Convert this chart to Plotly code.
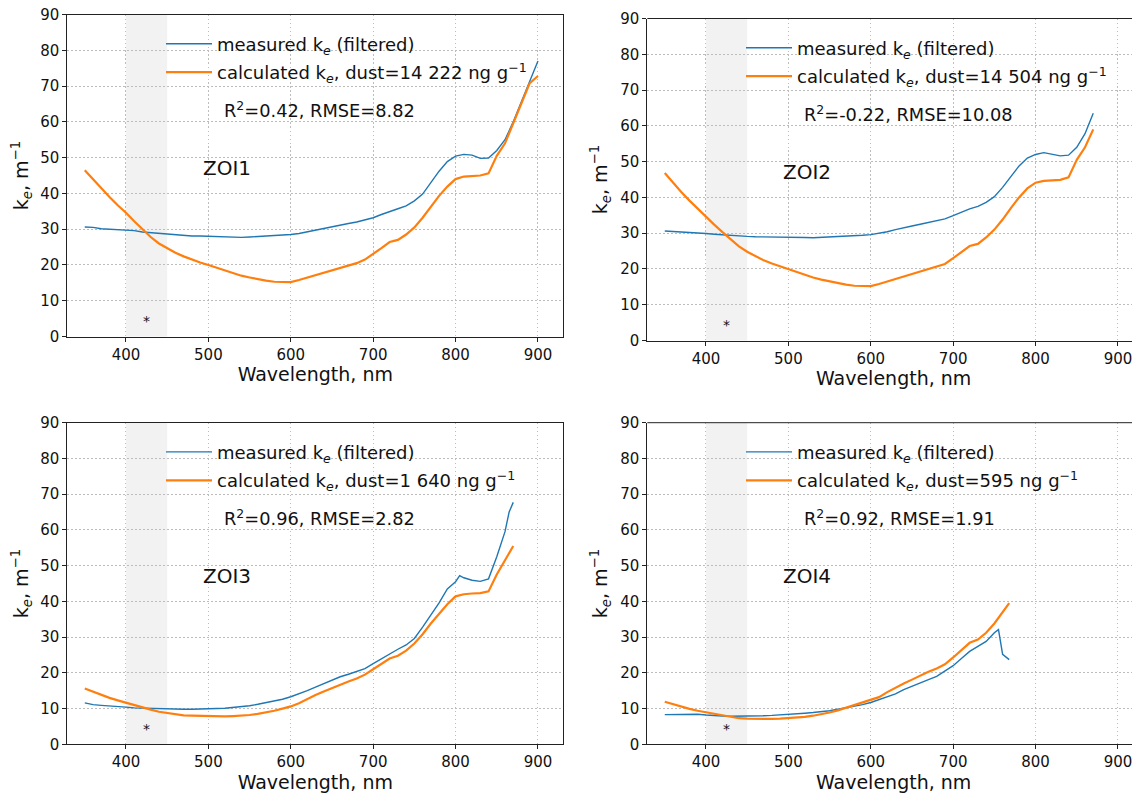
import plotly.graph_objects as go

# page body has an 8px margin: figure occupies the visible window minus that offset
OFF = 8
W, H = 1140 - OFF, 796 - OFF

# ---------------- data ----------------
wl_1 = list(range(350, 901, 10))
meas_1 = [30.6, 30.5, 30.1, 30.0, 29.8, 29.8, 29.6, 29.2, 29.0, 28.8,
          28.5, 28.3, 28.2, 28.1, 28.1, 28.0, 27.9, 27.8, 27.7, 27.7,
          27.8, 27.9, 28.0, 28.1, 28.3, 28.5, 28.8, 29.3, 29.8, 30.2,
          30.7, 31.2, 31.6, 32.0, 32.5, 33.2, 34.1, 35.0, 35.7, 36.5,
          37.9, 39.8, 43.0, 46.2, 48.9, 50.4, 50.9, 50.7, 49.8, 49.9,
          52.0, 55.0, 60.0, 65.5, 71.5, 77.0]
calc_1 = [46.5, 43.9, 41.4, 39.0, 36.7, 34.6, 32.2, 30.0, 27.8, 26.0,
          24.6, 23.4, 22.4, 21.5, 20.7, 20.0, 19.2, 18.4, 17.6, 17.0,
          16.5, 16.0, 15.6, 15.3, 15.2, 15.2, 15.8, 16.5, 17.2, 17.8,
          18.5, 19.2, 19.9, 20.5, 21.5, 23.0, 24.7, 26.4, 27.0, 28.5,
          30.5, 33.2, 36.2, 39.3, 41.9, 44.0, 44.7, 44.9, 45.0, 45.6,
          50.5, 54.0, 59.5, 65.5, 70.8, 72.8]

wl_2 = list(range(350, 871, 10))
meas_2 = [30.6, 30.5, 30.3, 30.2, 30.0, 29.9, 29.7, 29.5, 29.3, 29.2,
          29.1, 29.0, 29.0, 29.0, 28.9, 28.9, 28.9, 28.8, 28.7, 28.8,
          28.8, 28.9, 29.1, 29.3, 29.4, 29.6, 29.9, 30.4, 31.0, 31.6,
          32.0, 32.5, 33.0, 33.4, 34.0, 34.9, 35.9, 36.8, 37.5, 38.6,
          40.2, 42.8, 45.8, 48.8, 51.0, 52.0, 52.5, 52.1, 51.6, 51.8,
          54.0, 57.8, 63.5]
calc_2 = [46.8, 44.0, 41.5, 39.1, 36.8, 34.6, 32.4, 30.3, 28.2, 26.3,
          24.8, 23.5, 22.4, 21.5, 20.7, 20.0, 19.2, 18.4, 17.6, 17.0,
          16.5, 16.0, 15.6, 15.3, 15.2, 15.2, 15.8, 16.5, 17.2, 17.8,
          18.5, 19.2, 19.9, 20.5, 21.4, 23.0, 24.7, 26.4, 27.0, 28.8,
          31.0, 33.8, 37.0, 40.0, 42.5, 44.1, 44.6, 44.8, 44.9, 45.6,
          50.5, 54.0, 59.0]

wl_3 = list(range(350, 801, 10)) + [805, 810, 820, 830, 840, 850, 860, 865, 870]
meas_3 = [11.6, 11.1, 10.9, 10.8, 10.6, 10.4, 10.2, 10.1, 10.0, 9.9,
          9.9, 9.8, 9.8, 9.8, 9.8, 9.9, 10.0, 10.1, 10.3, 10.5,
          10.8, 11.2, 11.6, 12.1, 12.6, 13.3, 14.1, 15.0, 16.0, 17.0,
          18.0, 18.9, 19.6, 20.3, 21.2, 22.6, 24.0, 25.4, 26.6, 27.8,
          29.6, 32.8, 36.2, 39.6, 43.5, 45.5, 47.2, 46.6, 45.9, 45.6,
          46.3, 52.5, 59.5, 65.0, 67.7]
calc_3 = [15.6, 14.7, 13.8, 13.0, 12.3, 11.6, 11.0, 10.3, 9.7, 9.1,
          8.7, 8.4, 8.1, 8.0, 7.9, 7.8, 7.8, 7.8, 7.9, 8.0,
          8.2, 8.5, 8.9, 9.4, 10.0, 10.6, 11.5, 12.7, 13.8, 14.8,
          15.8, 16.8, 17.6, 18.4, 19.5, 21.0, 22.6, 24.0, 24.8, 26.2,
          28.2, 30.8, 33.8, 36.5, 39.2, 41.4, 41.8, 42.0, 42.2, 42.3,
          42.8, 47.5, 51.5, 53.5, 55.5]

wl_4 = list(range(350, 751, 10)) + [755, 760, 768]
meas_4 = [8.3, 8.3, 8.4, 8.5, 8.4, 8.2, 8.0, 7.9, 7.85, 7.85,
          7.9, 7.95, 8.0, 8.1, 8.2, 8.3, 8.5, 8.7, 8.9, 9.1,
          9.4, 9.8, 10.2, 10.6, 11.1, 11.7, 12.5, 13.2, 14.1, 15.3,
          16.3, 17.2, 18.1, 19.0, 20.4, 22.0, 24.0, 26.0, 27.4, 28.8,
          31.2, 32.1, 25.2, 23.7]
calc_4 = [11.9, 11.2, 10.5, 9.9, 9.4, 9.0, 8.5, 8.0, 7.6, 7.3,
          7.2, 7.1, 7.1, 7.1, 7.2, 7.3, 7.5, 7.7, 8.0, 8.4,
          8.9, 9.5, 10.2, 10.9, 11.6, 12.3, 13.2, 14.6, 15.9, 17.0,
          18.1, 19.3, 20.3, 21.2, 22.4, 24.3, 26.3, 28.4, 29.3, 31.2,
          33.8, 35.3, 36.8, 39.5]

panel_names = ["ZOI1", "ZOI2", "ZOI3", "ZOI4"]
dust_labels = ["14 222", "14 504", "1 640", "595"]
fit_labels = ["R<sup>2</sup>=0.42, RMSE=8.82", "R<sup>2</sup>=-0.22, RMSE=10.08",
              "R<sup>2</sup>=0.96, RMSE=2.82", "R<sup>2</sup>=0.92, RMSE=1.91"]
x_ticks = [400, 500, 600, 700, 800, 900]
y_ticks = [0, 10, 20, 30, 40, 50, 60, 70, 80, 90]

wls = [wl_1, wl_2, wl_3, wl_4]
meas = [meas_1, meas_2, meas_3, meas_4]
calc = [calc_1, calc_2, calc_3, calc_4]

# ---------------- layout geometry (window pixels) ----------------
BLUE = "#1f77b4"
ORANGE = "#ff7f0e"
TXT = "#111111"
FONT = "DejaVu Sans"
PXNM = 0.824  # px per nm
GRID_DASH = "1.5px,2.5px"

# panel pixel boxes in window coords: left, right, top, bottom
boxes = [(67.3, 563.3, 14.5, 336.5),
         (647.3, 1140.0, 18.5, 340.5),
         (67.3, 563.3, 422.7, 744.3),
         (647.3, 1140.0, 422.7, 744.3)]
X0 = 328.8

fig = go.Figure()

for i in range(4):
    l, r, t, b = [v - OFF for v in boxes[i]]
    n = i + 1
    xa = "x" if n == 1 else f"x{n}"
    ya = "y" if n == 1 else f"y{n}"
    leg = "legend" if n == 1 else f"legend{n}"
    fig.add_trace(go.Scatter(
        x=wls[i], y=meas[i], mode="lines", xaxis=xa, yaxis=ya,
        line=dict(color=BLUE, width=1.4),
        name="measured k<sub><i>e</i></sub> (filtered)",
        legend=leg, legendgroup=f"m{n}"))
    fig.add_trace(go.Scatter(
        x=wls[i], y=calc[i], mode="lines", xaxis=xa, yaxis=ya,
        line=dict(color=ORANGE, width=2.2),
        name=f"calculated k<sub><i>e</i></sub>, dust={dust_labels[i]} ng g<sup>−1</sup>",
        legend=leg, legendgroup=f"c{n}"))

    x1 = X0 + (r - l) / PXNM
    axk = "xaxis" if n == 1 else f"xaxis{n}"
    ayk = "yaxis" if n == 1 else f"yaxis{n}"
    fig.layout[axk] = dict(
        domain=[l / W, min(r / W, 1.0)], range=[X0, x1], anchor=ya, automargin=False,
        tickvals=x_ticks, ticks="outside", ticklen=4, tickwidth=1, tickcolor="#222",
        showline=True, linecolor="#222", linewidth=1, mirror=(n in (1, 3)),
        showgrid=True, gridcolor="#bdbdbd", griddash=GRID_DASH, gridwidth=1,
        zeroline=False, tickfont=dict(family=FONT, size=15, color=TXT),
        ticklabeloverflow="allow",
        title=dict(text="Wavelength, nm", font=dict(family=FONT, size=19, color=TXT), standoff=5),
    )
    fig.layout[ayk] = dict(
        domain=[1 - b / H, 1 - t / H], range=[0, 90], anchor=xa, automargin=False,
        tickvals=y_ticks, ticks="outside", ticklen=4, tickwidth=1, tickcolor="#222",
        showline=True, linecolor="#222", linewidth=1, mirror=(n in (1, 3)),
        showgrid=True, gridcolor="#bdbdbd", griddash=GRID_DASH, gridwidth=1,
        zeroline=False, tickfont=dict(family=FONT, size=15, color=TXT),
        ticklabeloverflow="allow",
        title=dict(text="k<sub><i>e</i></sub>, m<sup>−1</sup>", font=dict(family=FONT, size=19, color=TXT), standoff=7),
    )
    # top spine for right panels (cut off at right edge)
    if n in (2, 4):
        fig.add_shape(type="line", xref=f"{xa} domain", yref=f"{ya} domain",
                      x0=0, x1=1, y0=1, y1=1, line=dict(color="#222", width=1))
    # shaded band 400-450 nm
    fig.add_shape(type="rect", xref=xa, yref=f"{ya} domain", x0=400, x1=450, y0=0, y1=1,
                  fillcolor="rgba(128,128,128,0.1)", line=dict(width=0), layer="below")
    # asterisk
    fig.add_annotation(x=425, y=4.8, xref=xa, yref=ya, text="*", showarrow=False,
                       font=dict(family=FONT, size=14, color=TXT), yanchor="middle", yshift=-2)
    # ZOI label
    fig.add_annotation(x=491, y=47.1, xref=xa, yref=ya, text=panel_names[i], showarrow=False,
                       xanchor="left", yanchor="middle",
                       font=dict(family=FONT, size=20, color=TXT))
    # fit statistics
    fig.add_annotation(x=516, y=63.4, xref=xa, yref=ya, text=fit_labels[i], showarrow=False,
                       xanchor="left", yanchor="middle",
                       font=dict(family=FONT, size=17.8, color=TXT))
    # legend
    fig.layout[leg] = dict(
        x=(l + (451 - X0) * PXNM - 7) / W, y=1 - (t + 11) / H,
        xanchor="left", yanchor="top", bgcolor="rgba(0,0,0,0)", borderwidth=0,
        font=dict(family=FONT, size=18, color=TXT), itemwidth=46,
        traceorder="grouped", tracegroupgap=2,
    )

fig.update_layout(
    width=W, height=H, margin=dict(l=0, r=0, t=0, b=0),
    paper_bgcolor="white", plot_bgcolor="white", showlegend=True,
    font=dict(family=FONT, color=TXT),
)

fig.write_html("out.html")
